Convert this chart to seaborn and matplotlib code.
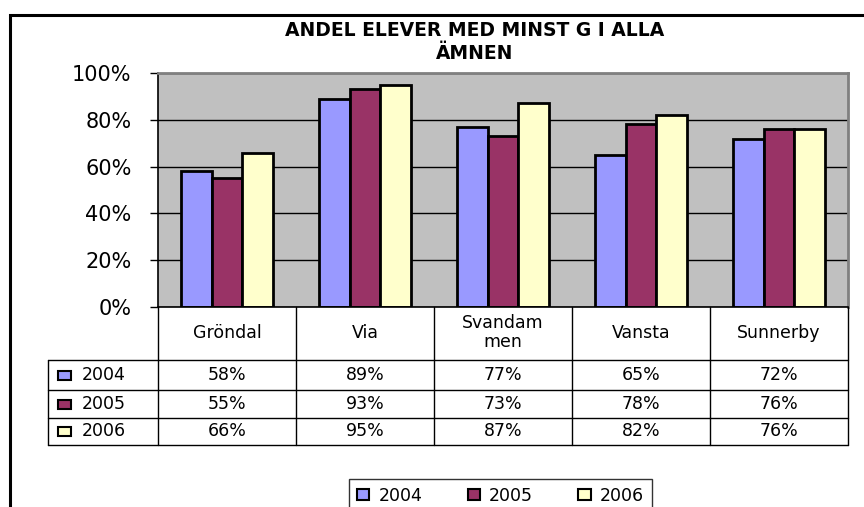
import pandas as pd
import seaborn as sns
import matplotlib.pyplot as plt
from matplotlib.patches import Rectangle

# data
skolor = ["Gröndal", "Via", "Svandammen", "Vansta", "Sunnerby"]
skol_etiketter = ["Gröndal", "Via", "Svandam\nmen", "Vansta", "Sunnerby"]
years = ["2004", "2005", "2006"]
v2004 = [58, 89, 77, 65, 72]
v2005 = [55, 93, 73, 78, 76]
v2006 = [66, 95, 87, 82, 76]
colors = ["#9999FF", "#993366", "#FFFFCC"]

df = pd.DataFrame({"skola": skolor * 3,
                   "år": [y for y in years for _ in skolor],
                   "andel": v2004 + v2005 + v2006})

sns.set_style("white")
plt.rcParams["font.family"] = ["DejaVu Sans"]
plt.rcParams["text.color"] = "black"
plt.rcParams["ytick.color"] = "black"
plt.rcParams["ytick.labelcolor"] = "black"

W, H = 864, 507
fig = plt.figure(figsize=(8.64, 5.07), dpi=100)

def fx(px):
    return px / W

def fy(py):
    return 1 - py / H

# outer frame (chart area border)
fig.patches.append(Rectangle((fx(10), fy(540)), fx(900), 525 / H, transform=fig.transFigure,
                             fill=False, ec="black", lw=2.2, clip_on=False))

# plot area
x0, x1, ytop, ybot = 158, 848, 73, 307
ax = fig.add_axes([fx(x0), fy(ybot), fx(x1 - x0), (ybot - ytop) / H])
ax.set_facecolor("#C0C0C0")
sns.barplot(data=df, x="skola", y="andel", hue="år", palette=colors, ax=ax,
            width=0.67, edgecolor="black", linewidth=2, saturation=1, legend=False)
ax.set_ylim(0, 100)
ax.set_xlim(-0.5, 4.5)
ax.set_yticks(range(0, 101, 20))
ax.set_yticklabels([f"{t}%" for t in range(0, 101, 20)], fontsize=15)
ax.tick_params(axis="y", direction="out", length=6, width=1, pad=13, left=True)
ax.set_xticks([])
ax.set_xlabel("")
ax.set_ylabel("")
ax.grid(axis="y", color="black", lw=1)
ax.set_axisbelow(True)
for s in ["left", "bottom"]:
    ax.spines[s].set_color("black")
    ax.spines[s].set_linewidth(1.2)
for s in ["top", "right"]:
    ax.spines[s].set_color("#808080")
    ax.spines[s].set_linewidth(2)

fig.text(fx(475), fy(42), "ANDEL ELEVER MED MINST G I ALLA\nÄMNEN", ha="center", va="center",
         fontsize=13.5, fontweight="bold", linespacing=1.25)

# data table under the plot
tab_left = 48
ncat = len(skolor)
colw = (x1 - x0) / ncat
rows = [307, 360, 390, 418, 445]
lc = "black"
for i in range(ncat + 1):
    xx = x0 + i * colw
    fig.add_artist(plt.Line2D([fx(xx), fx(xx)], [fy(rows[0]), fy(rows[-1])], color=lc, lw=1))
fig.add_artist(plt.Line2D([fx(tab_left), fx(tab_left)], [fy(rows[1]), fy(rows[-1])], color=lc, lw=1))
for r in rows[1:]:
    fig.add_artist(plt.Line2D([fx(tab_left), fx(x1)], [fy(r), fy(r)], color=lc, lw=1))

fs = 12.5
for i, lab in enumerate(skol_etiketter):
    fig.text(fx(x0 + (i + 0.5) * colw), fy((rows[0] + rows[1]) / 2 - 1), lab,
             ha="center", va="center", fontsize=fs, linespacing=1.05)

for j, (yr, vals) in enumerate(zip(years, [v2004, v2005, v2006])):
    yc = (rows[j + 1] + rows[j + 2]) / 2
    fig.patches.append(Rectangle((fx(58), fy(yc + 4.5)), fx(13), 9 / H, transform=fig.transFigure,
                                 fc=colors[j], ec="black", lw=1.5))
    fig.text(fx(82), fy(yc), yr, ha="left", va="center", fontsize=fs)
    for i, v in enumerate(vals):
        fig.text(fx(x0 + (i + 0.5) * colw), fy(yc), f"{v}%", ha="center", va="center", fontsize=fs)

# legend at the bottom
handles = [Rectangle((0, 0), 1, 1, fc=c, ec="black", lw=1.5) for c in colors]
leg = fig.legend(handles, years, loc="upper left", bbox_to_anchor=(fx(349), fy(479)),
                 ncol=3, fontsize=fs, frameon=True, fancybox=False, edgecolor="black",
                 handlelength=0.7, handleheight=0.55, handletextpad=0.55, columnspacing=2.6,
                 borderpad=0.45, borderaxespad=0)
leg.get_frame().set_linewidth(1)

fig.savefig("out.png", dpi=100)
